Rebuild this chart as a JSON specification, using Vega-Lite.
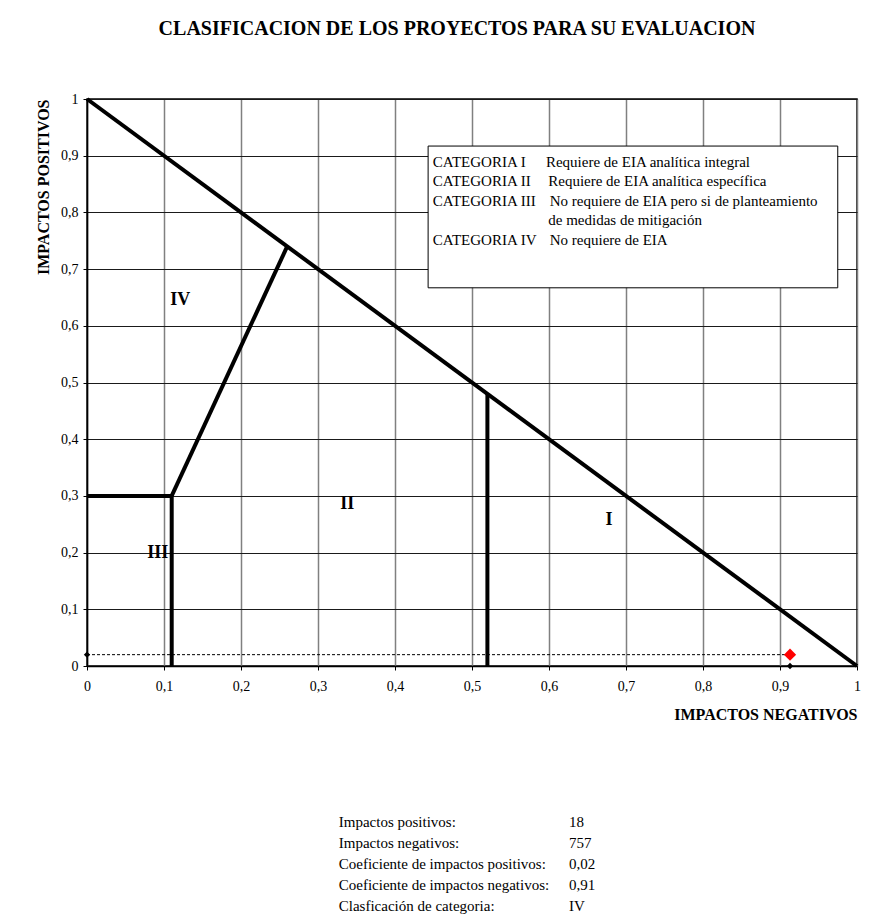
{
  "$schema": "https://vega.github.io/schema/vega-lite/v6.json",
  "width": 770,
  "height": 567,
  "autosize": {"type": "none"},
  "padding": {"left": 87, "top": 99, "right": 12, "bottom": 257},
  "background": "white",
  "title": {
    "text": "CLASIFICACION DE LOS PROYECTOS PARA SU EVALUACION",
    "font": "Liberation Serif",
    "fontSize": 20,
    "fontWeight": "bold",
    "color": "black",
    "anchor": "middle",
    "offset": 52,
    "dx": -15
  },
  "config": {
    "view": {"stroke": "black", "strokeWidth": 1.5},
    "font": "Liberation Serif",
    "text": {"font": "Liberation Serif", "color": "black"}
  },
  "datasets": {
    "lineas": [
      {"seg": "diag", "ord": 1, "x": 0, "y": 1},
      {"seg": "diag", "ord": 2, "x": 1, "y": 0},
      {"seg": "III", "ord": 1, "x": 0, "y": 0.3},
      {"seg": "III", "ord": 2, "x": 0.11, "y": 0.3},
      {"seg": "III", "ord": 3, "x": 0.11, "y": 0},
      {"seg": "IV", "ord": 1, "x": 0.11, "y": 0.3},
      {"seg": "IV", "ord": 2, "x": 0.26, "y": 0.74},
      {"seg": "I", "ord": 1, "x": 0.52, "y": 0.48},
      {"seg": "I", "ord": 2, "x": 0.52, "y": 0}
    ],
    "guia": [{"x": 0, "y": 0.02, "x2": 0.913, "y2": 0.02}],
    "puntos": [
      {"tipo": "eje", "x": 0, "y": 0.02},
      {"tipo": "eje", "x": 0.913, "y": 0},
      {"tipo": "proyecto", "x": 0.913, "y": 0.02}
    ],
    "regiones": [
      {"label": "IV", "x": 0.121, "y": 0.646},
      {"label": "III", "x": 0.092, "y": 0.2},
      {"label": "II", "x": 0.338, "y": 0.285},
      {"label": "I", "x": 0.678, "y": 0.258}
    ],
    "caja": [{"x": 0.443, "x2": 0.975, "y": 0.917, "y2": 0.667}],
    "leyenda": [
      {"cat": "CATEGORIA I", "desc": "Requiere de EIA analítica integral", "xc": 0.449, "xd": 0.596, "y": 0.889},
      {"cat": "CATEGORIA II", "desc": "Requiere de EIA analítica específica", "xc": 0.449, "xd": 0.599, "y": 0.855},
      {"cat": "CATEGORIA III", "desc": "No requiere de EIA pero si de planteamiento", "xc": 0.449, "xd": 0.601, "y": 0.820},
      {"cat": "", "desc": "de medidas de mitigación", "xc": 0.449, "xd": 0.599, "y": 0.786},
      {"cat": "CATEGORIA IV", "desc": "No requiere de EIA", "xc": 0.449, "xd": 0.601, "y": 0.751}
    ],
    "tabla": [
      {"label": "Impactos positivos:", "value": "18", "xl": 0.327, "xv": 0.626, "y": -0.275},
      {"label": "Impactos negativos:", "value": "757", "xl": 0.327, "xv": 0.626, "y": -0.312},
      {"label": "Coeficiente de impactos positivos:", "value": "0,02", "xl": 0.327, "xv": 0.626, "y": -0.349},
      {"label": "Coeficiente de impactos negativos:", "value": "0,91", "xl": 0.327, "xv": 0.626, "y": -0.386},
      {"label": "Clasficación de categoria:", "value": "IV", "xl": 0.327, "xv": 0.626, "y": -0.423}
    ]
  },
  "layer": [
    {
      "data": {"name": "guia"},
      "mark": {"type": "rule", "color": "black", "strokeWidth": 1, "strokeDash": [3, 2]},
      "encoding": {
        "x": {
          "field": "x", "type": "quantitative",
          "scale": {"domain": [0, 1], "nice": false, "zero": false},
          "axis": {
            "title": "IMPACTOS NEGATIVOS",
            "titleFont": "Liberation Serif", "titleFontSize": 16, "titleFontWeight": "bold", "titleColor": "black",
            "titleAnchor": "end", "titlePadding": 13,
            "values": [0, 0.1, 0.2, 0.3, 0.4, 0.5, 0.6, 0.7, 0.8, 0.9, 1],
            "labelExpr": "replace(format(datum.value, '~g'), '.', ',')",
            "labelFont": "Liberation Serif", "labelFontSize": 14, "labelColor": "black", "labelPadding": 9,
            "labelFlush": false,
            "tickSize": 4, "tickColor": "black", "domainColor": "black", "domainWidth": 1.5,
            "grid": true, "gridColor": "#808080", "gridWidth": 1.5, "gridOpacity": 1
          }
        },
        "x2": {"field": "x2"},
        "y": {
          "field": "y", "type": "quantitative",
          "scale": {"domain": [0, 1], "nice": false, "zero": false},
          "axis": {
            "title": "IMPACTOS POSITIVOS",
            "titleFont": "Liberation Serif", "titleFontSize": 16, "titleFontWeight": "bold", "titleColor": "black",
            "titleAnchor": "end", "titlePadding": 9,
            "values": [0, 0.1, 0.2, 0.3, 0.4, 0.5, 0.6, 0.7, 0.8, 0.9, 1],
            "labelExpr": "replace(format(datum.value, '~g'), '.', ',')",
            "labelFont": "Liberation Serif", "labelFontSize": 14, "labelColor": "black", "labelPadding": 5,
            "labelFlush": false,
            "tickSize": 4, "tickColor": "black", "domainColor": "black", "domainWidth": 1.5,
            "grid": true, "gridColor": "#1a1a1a", "gridWidth": 1, "gridOpacity": 1
          }
        },
        "y2": {"field": "y2"}
      }
    },
    {
      "data": {"name": "lineas"},
      "mark": {"type": "line", "color": "black", "strokeWidth": 4, "strokeJoin": "miter", "strokeCap": "butt"},
      "encoding": {
        "x": {"field": "x", "type": "quantitative", "scale": {"domain": [0, 1], "nice": false, "zero": false}},
        "y": {"field": "y", "type": "quantitative", "scale": {"domain": [0, 1], "nice": false, "zero": false}},
        "detail": {"field": "seg"},
        "order": {"field": "ord", "type": "quantitative"}
      }
    },
    {
      "data": {"name": "puntos"},
      "mark": {"type": "point", "shape": "diamond", "filled": true, "opacity": 1},
      "encoding": {
        "x": {"field": "x", "type": "quantitative", "scale": {"domain": [0, 1], "nice": false, "zero": false}},
        "y": {"field": "y", "type": "quantitative", "scale": {"domain": [0, 1], "nice": false, "zero": false}},
        "color": {"field": "tipo", "type": "nominal", "scale": {"domain": ["eje", "proyecto"], "range": ["black", "#ff0000"]}, "legend": null},
        "size": {"field": "tipo", "type": "nominal", "scale": {"domain": ["eje", "proyecto"], "range": [40, 150]}, "legend": null}
      }
    },
    {
      "data": {"name": "regiones"},
      "mark": {"type": "text", "font": "Liberation Serif", "fontSize": 18, "fontWeight": "bold", "align": "center", "baseline": "middle", "color": "black"},
      "encoding": {
        "x": {"field": "x", "type": "quantitative", "scale": {"domain": [0, 1], "nice": false, "zero": false}},
        "y": {"field": "y", "type": "quantitative", "scale": {"domain": [0, 1], "nice": false, "zero": false}},
        "text": {"field": "label"}
      }
    },
    {
      "data": {"name": "caja"},
      "mark": {"type": "rect", "fill": "white", "stroke": "black", "strokeWidth": 1},
      "encoding": {
        "x": {"field": "x", "type": "quantitative", "scale": {"domain": [0, 1], "nice": false, "zero": false}},
        "x2": {"field": "x2"},
        "y": {"field": "y", "type": "quantitative", "scale": {"domain": [0, 1], "nice": false, "zero": false}},
        "y2": {"field": "y2"}
      }
    },
    {
      "data": {"name": "leyenda"},
      "mark": {"type": "text", "font": "Liberation Serif", "fontSize": 15, "align": "left", "baseline": "middle", "color": "black"},
      "encoding": {
        "x": {"field": "xc", "type": "quantitative", "scale": {"domain": [0, 1], "nice": false, "zero": false}},
        "y": {"field": "y", "type": "quantitative", "scale": {"domain": [0, 1], "nice": false, "zero": false}},
        "text": {"field": "cat"}
      }
    },
    {
      "data": {"name": "leyenda"},
      "mark": {"type": "text", "font": "Liberation Serif", "fontSize": 15, "align": "left", "baseline": "middle", "color": "black"},
      "encoding": {
        "x": {"field": "xd", "type": "quantitative", "scale": {"domain": [0, 1], "nice": false, "zero": false}},
        "y": {"field": "y", "type": "quantitative", "scale": {"domain": [0, 1], "nice": false, "zero": false}},
        "text": {"field": "desc"}
      }
    },
    {
      "data": {"name": "tabla"},
      "mark": {"type": "text", "font": "Liberation Serif", "fontSize": 15, "align": "left", "baseline": "middle", "color": "black"},
      "encoding": {
        "x": {"field": "xl", "type": "quantitative", "scale": {"domain": [0, 1], "nice": false, "zero": false}},
        "y": {"field": "y", "type": "quantitative", "scale": {"domain": [0, 1], "nice": false, "zero": false}},
        "text": {"field": "label"}
      }
    },
    {
      "data": {"name": "tabla"},
      "mark": {"type": "text", "font": "Liberation Serif", "fontSize": 15, "align": "left", "baseline": "middle", "color": "black"},
      "encoding": {
        "x": {"field": "xv", "type": "quantitative", "scale": {"domain": [0, 1], "nice": false, "zero": false}},
        "y": {"field": "y", "type": "quantitative", "scale": {"domain": [0, 1], "nice": false, "zero": false}},
        "text": {"field": "value"}
      }
    }
  ]
}
